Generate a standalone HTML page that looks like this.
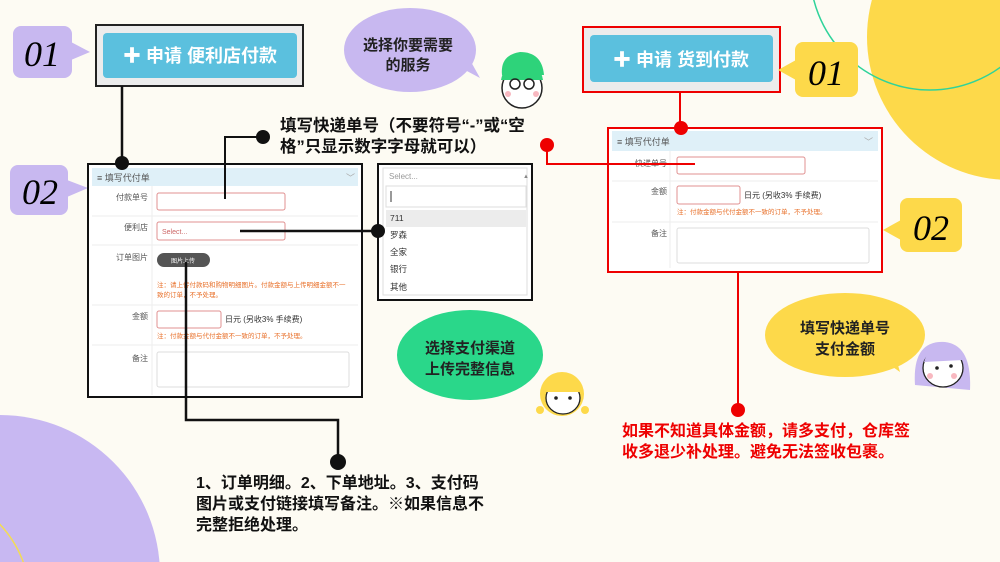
<!DOCTYPE html>
<html><head><meta charset="utf-8"><style>
html,body{margin:0;padding:0;background:#fdfbf3;width:1000px;height:562px;overflow:hidden;}
svg{display:block;font-family:"Liberation Sans","Noto Sans CJK SC",sans-serif;}
.b{font-weight:bold;}
</style></head><body>
<svg width="1000" height="562" viewBox="0 0 1000 562" xmlns="http://www.w3.org/2000/svg">
<rect width="1000" height="562" fill="#fdfbf3"/>
<circle cx="1010" cy="37" r="143" fill="#fdd94a"/>
<circle cx="930" cy="-30" r="120" fill="none" stroke="#2fd39a" stroke-width="1.5"/>
<circle cx="0" cy="575" r="160" fill="#c8b8f2"/>
<circle cx="-80" cy="600" r="110" fill="none" stroke="#f3dc55" stroke-width="1.5"/>

<rect x="13" y="26" width="59" height="52" rx="8" fill="#c8b8f0"/>
<polygon points="71,42 90,52 71,60" fill="#c8b8f0"/>
<text x="42" y="66" font-size="36" font-style="italic" text-anchor="middle" font-family="Liberation Serif,serif">01</text>
<rect x="96" y="25" width="207" height="61" fill="#ececec" stroke="#222" stroke-width="2"/>
<rect x="103" y="33" width="194" height="45" rx="4" fill="#5bc0de"/>
<text x="200" y="62" font-size="18" fill="#fff" text-anchor="middle" class="b">✚ 申请 便利店付款</text>
<line x1="122" y1="86" x2="122" y2="163" stroke="#111" stroke-width="2.5"/>
<rect x="10" y="165" width="58" height="50" rx="8" fill="#c8b8f0"/>
<polygon points="67,180 88,188 67,197" fill="#c8b8f0"/>
<text x="40" y="204" font-size="36" font-style="italic" text-anchor="middle" font-family="Liberation Serif,serif">02</text>

<rect x="88" y="164" width="274" height="233" fill="#fff" stroke="#111" stroke-width="2"/>
<rect x="92" y="168" width="266" height="18" fill="#dff0f8"/>
<text x="97" y="181" font-size="9" fill="#555">≡ 填写代付单</text>
<text x="346" y="181" font-size="9" fill="#aaa">﹀</text>
<g stroke="#eee" stroke-width="1"><line x1="92" y1="216" x2="358" y2="216"/><line x1="92" y1="245" x2="358" y2="245"/><line x1="92" y1="305" x2="358" y2="305"/><line x1="92" y1="345" x2="358" y2="345"/><line x1="152" y1="186" x2="152" y2="395"/></g>
<g font-size="8" fill="#555" text-anchor="end"><text x="148" y="200">付款单号</text><text x="148" y="230">便利店</text><text x="148" y="260">订单图片</text><text x="148" y="319">金额</text><text x="148" y="361">备注</text></g>
<rect x="157" y="193" width="128" height="17" rx="2" fill="#fff" stroke="#e09090"/>
<rect x="157" y="222" width="128" height="18" rx="2" fill="#fff" stroke="#e09090"/>
<text x="162" y="234" font-size="7" fill="#c66">Select...</text>
<rect x="157" y="253" width="53" height="14" rx="7" fill="#555"/>
<text x="183" y="263" font-size="6" fill="#fff" text-anchor="middle">图片上传</text>
<text x="157" y="287" font-size="6.5" fill="#e8702a">注：请上传付款码和购物明细图片。付款金额与上传明细金额不一</text>
<text x="157" y="297" font-size="6.5" fill="#e8702a">致的订单，不予处理。</text>
<rect x="157" y="311" width="64" height="17" rx="2" fill="#fff" stroke="#e09090"/>
<text x="225" y="322" font-size="8" fill="#333">日元 (另收3% 手续费)</text>
<text x="157" y="338" font-size="6.5" fill="#e8702a">注：付款金额与代付金额不一致的订单，不予处理。</text>
<rect x="157" y="352" width="192" height="35" rx="2" fill="#fff" stroke="#ddd"/>
<circle cx="122" cy="163" r="7" fill="#111"/>

<text x="280" y="131" font-size="16.5" class="b" fill="#111">填写快递单号（不要符号“-”或“空</text>
<text x="280" y="152" font-size="16.5" class="b" fill="#111">格”只显示数字字母就可以）</text>
<polyline points="262,137 225,137 225,199" fill="none" stroke="#111" stroke-width="2"/>
<circle cx="263" cy="137" r="7" fill="#111"/>

<rect x="378" y="164" width="154" height="136" fill="#fff" stroke="#111" stroke-width="2"/>
<rect x="383" y="168" width="144" height="127" fill="#fff" stroke="#ddd"/>
<text x="389" y="179" font-size="8" fill="#999">Select...</text>
<text x="523" y="178" font-size="6" fill="#888">▲</text>
<rect x="386" y="186" width="140" height="21" fill="#fff" stroke="#ddd"/>
<line x1="391" y1="191" x2="391" y2="202" stroke="#333"/>
<rect x="386" y="210" width="140" height="17" fill="#ececec"/>
<g font-size="8.5" fill="#333"><text x="390" y="221">711</text><text x="390" y="238">罗森</text><text x="390" y="255">全家</text><text x="390" y="272">银行</text><text x="390" y="290">其他</text></g>
<line x1="240" y1="231" x2="378" y2="231" stroke="#111" stroke-width="2.5"/>
<circle cx="378" cy="231" r="7" fill="#111"/>

<polyline points="186,262 186,420 338,420 338,462" fill="none" stroke="#111" stroke-width="2.5"/>
<circle cx="338" cy="462" r="8" fill="#111"/>
<g font-size="16" class="b" fill="#111"><text x="196" y="488">1、订单明细。2、下单地址。3、支付码</text><text x="196" y="509">图片或支付链接填写备注。※如果信息不</text><text x="196" y="530">完整拒绝处理。</text></g>

<ellipse cx="410" cy="50" rx="66" ry="42" fill="#c8b8f0"/>
<polygon points="465,70 480,78 470,60" fill="#c8b8f0"/>
<text x="408" y="50" font-size="15" class="b" text-anchor="middle" fill="#222">选择你要需要</text>
<text x="408" y="70" font-size="15" class="b" text-anchor="middle" fill="#222">的服务</text>
<path d="M502,75 Q500,55 520,52 Q542,52 544,75 Z" fill="#2ed37a"/>
<ellipse cx="522" cy="88" rx="20" ry="20" fill="#fff" stroke="#222" stroke-width="1.5"/>
<path d="M501,80 Q505,60 522,62 Q540,62 543,80" fill="#2ed37a"/>
<circle cx="515" cy="84" r="5" fill="none" stroke="#222" stroke-width="1.5"/><circle cx="529" cy="84" r="5" fill="none" stroke="#222" stroke-width="1.5"/>
<circle cx="508" cy="94" r="3" fill="#f8b8c0"/><circle cx="536" cy="94" r="3" fill="#f8b8c0"/>

<ellipse cx="470" cy="355" rx="73" ry="45" fill="#2ad78a"/>
<text x="470" y="353" font-size="15" class="b" text-anchor="middle" fill="#222">选择支付渠道</text>
<text x="470" y="374" font-size="15" class="b" text-anchor="middle" fill="#222">上传完整信息</text>
<circle cx="562" cy="394" r="22" fill="#fdd94a"/>
<ellipse cx="563" cy="398" rx="17" ry="16" fill="#fff" stroke="#222" stroke-width="1.3"/>
<path d="M546,392 Q550,374 563,376 Q578,376 580,392 Z" fill="#fdd94a"/>
<circle cx="556" cy="398" r="1.8" fill="#222"/><circle cx="570" cy="398" r="1.8" fill="#222"/>
<circle cx="540" cy="410" r="4" fill="#fdd94a"/><circle cx="585" cy="410" r="4" fill="#fdd94a"/>

<rect x="583" y="27" width="197" height="65" fill="#ececec" stroke="#e00" stroke-width="2"/>
<rect x="590" y="35" width="183" height="47" rx="4" fill="#5bc0de"/>
<text x="681" y="66" font-size="18" fill="#fff" text-anchor="middle" class="b">✚ 申请 货到付款</text>
<rect x="795" y="42" width="63" height="55" rx="8" fill="#fdd94a"/>
<polygon points="796,60 778,70 796,80" fill="#fdd94a"/>
<text x="826" y="85" font-size="36" font-style="italic" text-anchor="middle" font-family="Liberation Serif,serif">01</text>
<line x1="680" y1="92" x2="680" y2="128" stroke="#e00" stroke-width="2"/>

<rect x="608" y="128" width="274" height="144" fill="#fff" stroke="#e00" stroke-width="2"/>
<rect x="612" y="131" width="266" height="20" fill="#dff0f8"/>
<text x="617" y="145" font-size="9" fill="#555">≡ 填写代付单</text>
<text x="864" y="145" font-size="9" fill="#aaa">﹀</text>
<g stroke="#eee"><line x1="612" y1="181" x2="878" y2="181"/><line x1="612" y1="222" x2="878" y2="222"/><line x1="670" y1="151" x2="670" y2="268"/></g>
<g font-size="8" fill="#555" text-anchor="end"><text x="667" y="166">快递单号</text><text x="667" y="194">金额</text><text x="667" y="236">备注</text></g>
<rect x="677" y="157" width="128" height="17" rx="2" fill="#fff" stroke="#e09090"/>
<rect x="677" y="186" width="63" height="18" rx="2" fill="#fff" stroke="#e09090"/>
<text x="744" y="198" font-size="8" fill="#333">日元 (另收3% 手续费)</text>
<text x="677" y="214" font-size="6.5" fill="#e8702a">注：付款金额与代付金额不一致的订单，不予处理。</text>
<rect x="677" y="228" width="192" height="35" rx="2" fill="#fff" stroke="#ddd"/>
<circle cx="681" cy="128" r="7" fill="#e00"/>
<polyline points="547,145 547,164 695,164" fill="none" stroke="#e00" stroke-width="2"/>
<circle cx="547" cy="145" r="7" fill="#e00"/>
<rect x="900" y="198" width="62" height="54" rx="8" fill="#fdd94a"/>
<polygon points="901,220 883,230 901,240" fill="#fdd94a"/>
<text x="931" y="240" font-size="36" font-style="italic" text-anchor="middle" font-family="Liberation Serif,serif">02</text>

<line x1="738" y1="272" x2="738" y2="410" stroke="#e00" stroke-width="2"/>
<circle cx="738" cy="410" r="7" fill="#e00"/>
<g font-size="16" class="b" fill="#e00"><text x="622" y="436">如果不知道具体金额，请多支付，仓库签</text><text x="622" y="457">收多退少补处理。避免无法签收包裹。</text></g>

<ellipse cx="845" cy="335" rx="80" ry="42" fill="#fdd94a"/>
<polygon points="890,365 900,372 895,355" fill="#fdd94a"/>
<text x="845" y="333" font-size="15" class="b" text-anchor="middle" fill="#222">填写快递单号</text>
<text x="845" y="354" font-size="15" class="b" text-anchor="middle" fill="#222">支付金额</text>
<path d="M915,385 Q912,340 945,342 Q972,345 970,390 Z" fill="#c8b8f0"/>
<ellipse cx="943" cy="368" rx="20" ry="19" fill="#fff" stroke="#222" stroke-width="1.3"/>
<path d="M924,362 Q930,342 946,344 Q965,346 963,360 Z" fill="#c8b8f0"/>
<circle cx="937" cy="368" r="1.8" fill="#222"/><circle cx="951" cy="366" r="1.8" fill="#222"/>
<circle cx="930" cy="376" r="3" fill="#f8b8c0"/><circle cx="954" cy="376" r="3" fill="#f8b8c0"/>
</svg>
</body></html>
